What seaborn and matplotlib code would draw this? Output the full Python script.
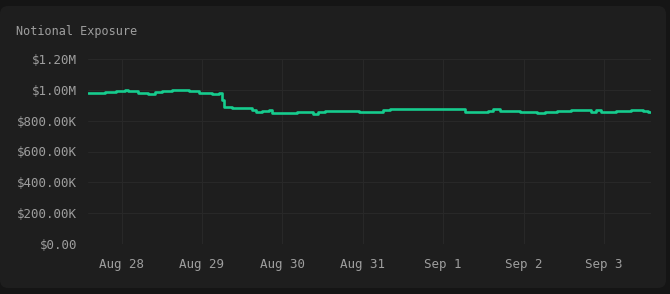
import matplotlib
matplotlib.use("Agg")
import matplotlib.pyplot as plt
import matplotlib.dates as mdates
from matplotlib.patches import FancyBboxPatch
import pandas as pd
import seaborn as sns

times = ["2024-08-27 14:00", "2024-08-27 19:00", "2024-08-27 22:30", "2024-08-28 01:00",
         "2024-08-28 02:00", "2024-08-28 05:00", "2024-08-28 08:00", "2024-08-28 10:00",
         "2024-08-28 12:00", "2024-08-28 15:00", "2024-08-28 18:00", "2024-08-28 20:00",
         "2024-08-28 23:00", "2024-08-29 03:00", "2024-08-29 05:00", "2024-08-29 06:00",
         "2024-08-29 06:30", "2024-08-29 09:00", "2024-08-29 13:00", "2024-08-29 15:00",
         "2024-08-29 16:00", "2024-08-29 18:00", "2024-08-29 20:00", "2024-08-29 21:00",
         "2024-08-30 04:30", "2024-08-30 09:00", "2024-08-30 10:30", "2024-08-30 12:45",
         "2024-08-30 23:00", "2024-08-31 06:00", "2024-08-31 08:00", "2024-08-31 20:00",
         "2024-09-01 06:30", "2024-09-01 13:30", "2024-09-01 15:00", "2024-09-01 17:00",
         "2024-09-01 23:00", "2024-09-02 04:00", "2024-09-02 06:30", "2024-09-02 10:00",
         "2024-09-02 14:00", "2024-09-02 20:00", "2024-09-02 21:30", "2024-09-02 23:00",
         "2024-09-03 03:30", "2024-09-03 08:00", "2024-09-03 11:30", "2024-09-03 13:15",
         "2024-09-03 14:00"]
exposure = [981000, 985000, 992000, 999000,
            990000, 977000, 975000, 984000,
            992000, 999000, 997000, 992000,
            981000, 973000, 981000, 934000,
            890000, 880000, 882000, 869000,
            858000, 865000, 869000, 848000,
            854000, 845000, 854000, 860000,
            858000, 869000, 873000, 873000,
            858000, 862000, 876000, 865000,
            858000, 848000, 854000, 863000,
            869000, 854000, 869000, 858000,
            862000, 869000, 865000, 858000,
            858000]
y_ticks = [0, 200000, 400000, 600000, 800000, 1000000, 1200000]
y_labels = ["$0.00", "$200.00K", "$400.00K", "$600.00K", "$800.00K", "$1.00M", "$1.20M"]
x_ticks = ["2024-08-28", "2024-08-29", "2024-08-30", "2024-08-31",
           "2024-09-01", "2024-09-02", "2024-09-03"]
x_labels = ["Aug 28", "Aug 29", "Aug 30", "Aug 31", "Sep 1", "Sep 2", "Sep 3"]

df = pd.DataFrame({"time": pd.to_datetime(times), "exposure": exposure})

OUTER = "#151515"
CARD = "#1e1e1e"
GRID = "#282828"
TEXT = "#9e9e9e"
LINE = "#16cc8e"

sns.set_theme(style="dark")
plt.rcParams["font.family"] = ["DejaVu Sans Mono"]

fig = plt.figure(figsize=(6.7, 2.94), dpi=100, facecolor=OUTER)
card = FancyBboxPatch((0.0 / 670, (294 - 288) / 294), 666 / 670, 282 / 294,
                      boxstyle="round,pad=0,rounding_size=0.012",
                      transform=fig.transFigure, facecolor=CARD, edgecolor="none",
                      mutation_aspect=670 / 294, zorder=-10)
fig.patches.append(card)

ax = fig.add_axes([88 / 670, (294 - 244) / 294, (651 - 88) / 670, (244 - 59) / 294])
ax.set_zorder(5)
ax.set_facecolor(CARD)

sns.lineplot(data=df, x="time", y="exposure", drawstyle="steps-post",
             color=LINE, linewidth=1.9, ax=ax)

ax.set_xlim(pd.Timestamp("2024-08-27 14:00"), pd.Timestamp("2024-09-03 14:00"))
ax.set_ylim(0, 1200000)
ax.set_yticks(y_ticks)
ax.set_yticklabels(y_labels)
ax.set_xticks(pd.to_datetime(x_ticks))
ax.set_xticklabels(x_labels)

ax.grid(True, color=GRID, linewidth=0.8)
for s in ax.spines.values():
    s.set_visible(False)
ax.tick_params(axis="x", colors=GRID, length=6, width=0.8, labelcolor=TEXT, labelsize=9, pad=4)
ax.tick_params(axis="y", length=0, labelcolor=TEXT, labelsize=9, pad=8)
ax.set_xlabel("")
ax.set_ylabel("")

fig.text(16 / 670, 1 - 31 / 294, "Notional Exposure", color=TEXT, fontsize=8.5,
         ha="left", va="center")

fig.savefig("out.png", dpi=100, facecolor=OUTER)
